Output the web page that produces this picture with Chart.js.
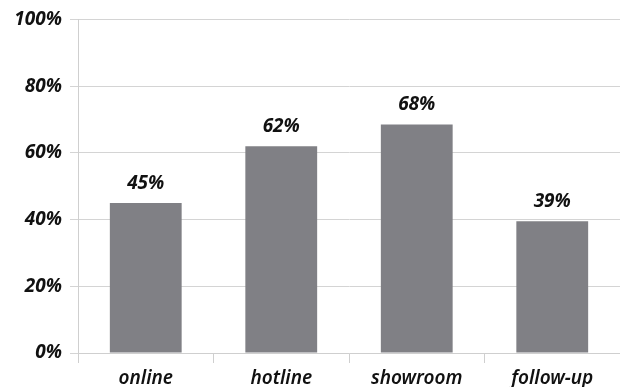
<!DOCTYPE html>
<html>
<head>
<meta charset="utf-8">
<script src="https://cdn.jsdelivr.net/npm/chart.js@4/dist/chart.umd.min.js"></script>
<style>
  html, body { margin: 0; padding: 0; background: #fff; }
  #wrap { width: 620px; height: 387px; }
</style>
</head>
<body>
<div id="wrap"><canvas id="chart"></canvas></div>
<script>
const categories = ["online", "hotline", "showroom", "follow-up"];
const shares = [45, 62, 68.5, 39.5];
const shareLabels = ["45%", "62%", "68%", "39%"];
const yTicks = [0, 20, 40, 60, 80, 100];

const FONT = "'Noto Sans', 'DejaVu Sans', sans-serif";

// draws the % value above each bar
const valueLabels = {
  id: "valueLabels",
  afterDatasetsDraw(chart) {
    const c = chart.ctx;
    const meta = chart.getDatasetMeta(0);
    c.save();
    c.font = "italic bold 19px " + FONT;
    c.fillStyle = "#111";
    c.textAlign = "center";
    c.textBaseline = "alphabetic";
    meta.data.forEach((bar, i) => {
      c.fillText(shareLabels[i], bar.x, bar.y - 14);
    });
    c.restore();
  }
};

new Chart(document.getElementById("chart"), {
  type: "bar",
  data: {
    labels: categories,
    datasets: [{
      data: shares,
      backgroundColor: "#808085",
      borderWidth: 0,
      barPercentage: 0.53,
      categoryPercentage: 1
    }]
  },
  options: {
    responsive: true,
    maintainAspectRatio: false,
    animation: false,
    layout: { padding: { top: 16, right: 0, left: 0, bottom: 0 } },
    plugins: {
      legend: { display: false },
      tooltip: { enabled: false }
    },
    scales: {
      x: {
        grid: {
          display: true,
          offset: true,
          drawOnChartArea: false,
          tickLength: 10,
          color: "#cfcfcf"
        },
        border: { color: "#cfcfcf", width: 1 },
        ticks: {
          color: "#111",
          padding: 4,
          font: { family: FONT, size: 19, style: "italic", weight: "600" }
        },
        afterFit(scale) { scale.height = 34; }
      },
      y: {
        min: 0,
        max: 100,
        afterBuildTicks(scale) { scale.ticks = yTicks.map(v => ({ value: v })); },
        grid: { color: "#d4d4d4", tickLength: 8, lineWidth: 1 },
        border: { color: "#cfcfcf", width: 1 },
        ticks: {
          color: "#111",
          padding: 8,
          font: { family: FONT, size: 19, style: "italic", weight: "bold" },
          callback: v => v + "%"
        },
        afterFit(scale) { scale.width = 78; }
      }
    }
  },
  plugins: [valueLabels]
});
</script>
</body>
</html>
